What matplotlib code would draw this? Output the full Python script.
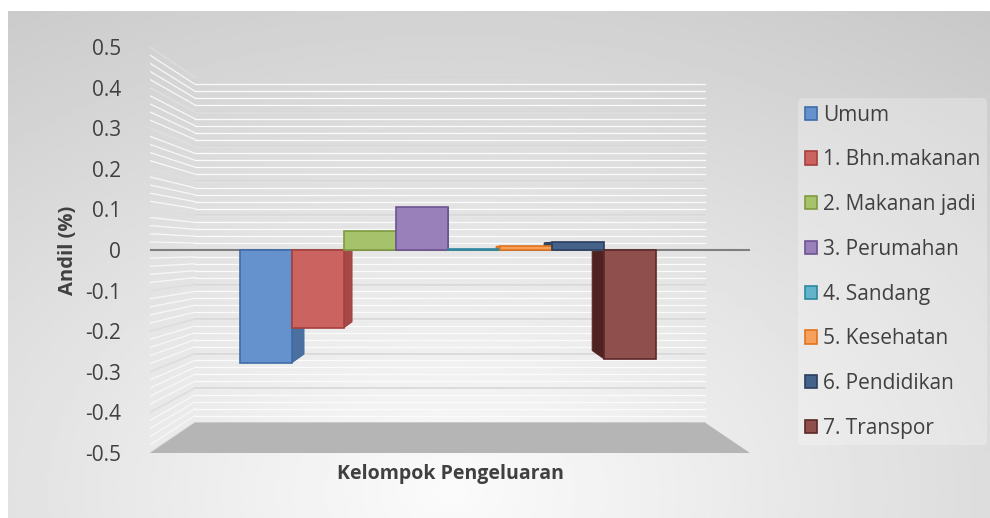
import numpy as np
import matplotlib
matplotlib.use("Agg")
from matplotlib import pyplot as plt
from matplotlib.patches import Patch

# data (Andil, %)
groups = ["Umum", "1. Bhn.makanan", "2. Makanan jadi", "3. Perumahan",
          "4. Sandang", "5. Kesehatan", "6. Pendidikan", "7. Transpor"]
andil = [-0.29, -0.20, 0.05, 0.11, 0.002, 0.01, 0.02, -0.28]
yticks = [-0.5, -0.4, -0.3, -0.2, -0.1, 0, 0.1, 0.2, 0.3, 0.4, 0.5]
ytick_labels = ["-0.5", "-0.4", "-0.3", "-0.2", "-0.1", "0", "0.1", "0.2", "0.3", "0.4", "0.5"]

face = ["#6592cd", "#cb6461", "#a6c26a", "#9a80ba", "#62b4cb", "#f5a05c", "#45628b", "#8f4f4d"]
edge = ["#3e6ca8", "#a5403d", "#7f9b40", "#6c5392", "#31879e", "#e2731c", "#2b3f5e", "#5c2827"]
side = ["#4b6f9e", "#a64846", "#839c4c", "#765e96", "#3f93aa", "#d07a34", "#2f4767", "#4e2220"]

plt.rcParams['font.family'] = ['Open Sans', 'DejaVu Sans']
txt = "#404040"

fig = plt.figure(figsize=(9.9, 5.18), dpi=100)

# background gradient of the chart area
bg = fig.add_axes([8 / 990, 0, 982 / 990, 507 / 518], zorder=-5)
gx, gy = np.meshgrid(np.linspace(0, 1, 300), np.linspace(0, 1, 200))
d = np.sqrt(((gx - 0.45) / 1.0) ** 2 + ((gy - 0.05) / 1.3) ** 2)
shade = np.clip(0.985 - 0.22 * d, 0.78, 0.985)
bg.imshow(shade, cmap="gray", vmin=0, vmax=1, aspect="auto", extent=[0, 1, 0, 1], origin="lower")
bg.set_xlim(0, 1)
bg.set_ylim(0, 1)
bg.axis("off")

ax = fig.add_axes([150 / 990, 65 / 518, 600 / 990, 406 / 518])
ax.set_xlim(0, 1)
ax.set_ylim(-0.5, 0.5)
ax.patch.set_alpha(0)
for s in ax.spines.values():
    s.set_visible(False)

# simple perspective: centre of view at x=0.5, horizon at 0
fb, ff, fk = 0.85, 0.956, 0.884      # back wall, bar front, bar back


def px(x, f):
    return 0.5 + (x - 0.5) * f


# walls and gridlines
for v in np.arange(-0.48, 0.5, 0.02):
    ax.plot([px(0, fb), px(1, fb)], [v * fb, v * fb], color="#fbfbfb", lw=0.9, zorder=0.5)
    ax.plot([0, px(0, fb)], [v, v * fb], color="#f8f8f8", lw=0.9, zorder=0.5)
for v in yticks:
    if v == 0:
        continue
    ax.plot([px(0, fb), px(1, fb)], [v * fb, v * fb], color="#d6d6d6", lw=1.2, zorder=1)
    ax.plot([0, px(0, fb)], [v, v * fb], color="#dcdcdc", lw=1.2, zorder=1)

# floor
ax.fill([0, 1, px(1, fb), px(0, fb)], [-0.5, -0.5, -0.5 * fb, -0.5 * fb],
        color="#b5b5b5", lw=0, zorder=1)

# bars
x0 = 0.134
w = 0.0906
lefts = [x0 + i * w for i in range(len(andil))]
for i, v in enumerate(andil):
    c = lefts[i] + w / 2
    xe = lefts[i] + w if c < 0.5 else lefts[i]
    ax.fill([px(xe, ff), px(xe, fk), px(xe, fk), px(xe, ff)],
            [0, 0, v * fk, v * ff], color=side[i], ec=edge[i], lw=0.8, zorder=2)
ax.bar([px(l, ff) for l in lefts], [v * ff for v in andil], width=w * ff, align="edge",
       color=face, edgecolor=edge, linewidth=1.2, zorder=3)

# zero line
ax.plot([0, 1], [0, 0], color="#7f7f7f", lw=1.5, zorder=2.5)

ax.set_xticks([])
ax.set_yticks(yticks)
ax.set_yticklabels(ytick_labels, fontsize=15, color=txt)
ax.tick_params(axis="y", length=0, pad=21)
ax.set_ylabel("Andil (%)", fontsize=14.5, fontweight="bold", color=txt, labelpad=5)
ax.set_xlabel("Kelompok Pengeluaran", fontsize=14, fontweight="bold", color=txt, labelpad=8)

handles = [Patch(facecolor=face[i], edgecolor=edge[i], lw=1.2) for i in range(len(groups))]
leg = fig.legend(handles, groups, loc="upper left", bbox_to_anchor=(788 / 990, 1 - 88 / 518),
                 frameon=True, fontsize=15, labelspacing=1.14, handlelength=0.6,
                 handleheight=0.6, handletextpad=0.3, borderpad=0.3, labelcolor=txt)
leg.get_frame().set_facecolor("#ffffff")
leg.get_frame().set_alpha(0.25)
leg.get_frame().set_edgecolor("none")

fig.savefig("out.png", dpi=100)
